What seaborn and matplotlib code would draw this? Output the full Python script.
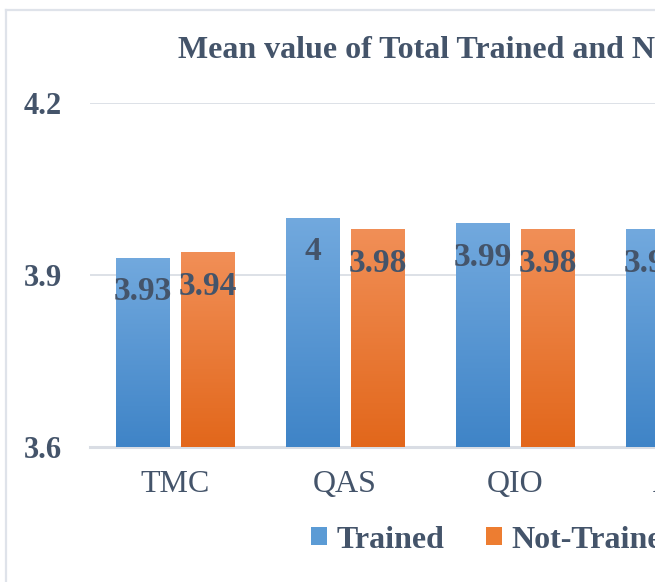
import matplotlib
matplotlib.use("Agg")
import matplotlib.pyplot as plt
import seaborn as sns
import pandas as pd
import numpy as np
from matplotlib.colors import LinearSegmentedColormap
from matplotlib.lines import Line2D
from matplotlib.patches import Patch

# ---- data (the chart is cropped on the right) ----
categories = ["TMC", "QAS", "QIO", "AVG"]
trained = [3.93, 4.00, 3.99, 3.98]
not_trained = [3.94, 3.98, 3.98]          # 4th value lies outside the crop
series = ["Trained", "Not-Trained"]
yticks = [3.6, 3.9, 4.2]
title = "Mean value of Total Trained and Not-Trained"

rows = []
for c, v in zip(categories, trained):
    rows.append({"cat": c, "series": series[0], "value": v})
for c, v in zip(categories, not_trained):
    rows.append({"cat": c, "series": series[1], "value": v})
df = pd.DataFrame(rows)

plt.rcParams["font.family"] = ["Liberation Serif", "DejaVu Serif"]
TXT = "#44546a"
DPI = 100
W, H = 655, 582

fig = plt.figure(figsize=(W / DPI, H / DPI), dpi=DPI)
fig.patch.set_facecolor("white")

def px2pt(p):
    return p * 72 / DPI

# axes: left at x=90px, y=3.6 at 447px, y=4.2 at 103px, 170px per category
ax = fig.add_axes([90 / W, (H - 447) / H, 4 * 170 / W, 344 / H])

palette = {"Trained": "#5b9bd5", "Not-Trained": "#ed7d31"}
sns.barplot(data=df, x="cat", y="value", hue="series", hue_order=series,
            order=categories, palette=palette, width=0.765, gap=0.18,
            dodge=True, legend=False, ax=ax, linewidth=0, zorder=2)

ymin, ymax = yticks[0], yticks[-1]
grads = [("#3f84c7", "#72a9de"), ("#e2671b", "#f18f57")]
for cont, (cbot, ctop) in zip(ax.containers, grads):
    cmap = LinearSegmentedColormap.from_list("g", [cbot, ctop])
    for p in cont:
        x0, w, h = p.get_x(), p.get_width(), p.get_height()
        im = ax.imshow(np.linspace(0, 1, 256).reshape(-1, 1),
                       extent=[x0, x0 + w, ymin, h], origin="lower",
                       cmap=cmap, aspect="auto", zorder=2.1)
        im.set_clip_path(p)
        ax.annotate(f"{h:g}", xy=(x0 + w / 2, h), xytext=(0, -px2pt(34)),
                    textcoords="offset points", ha="center", va="center",
                    fontsize=24, fontweight="bold", color=TXT, zorder=5)

ax.set_aspect("auto")
ax.set_xlim(-0.5, len(categories) - 0.5)
ax.set_ylim(ymin, ymax)
ax.set_yticks(yticks)
ax.set_yticklabels([f"{v}" for v in yticks], fontsize=22, fontweight="bold",
                   color=TXT)
ax.set_xticks(range(len(categories)))
ax.set_xticklabels(categories, fontsize=23, color=TXT)
ax.tick_params(axis="y", length=0, pad=px2pt(28))
ax.tick_params(axis="x", length=0, pad=px2pt(23))
ax.set_xlabel("")
ax.set_ylabel("")
for s in ax.spines.values():
    s.set_visible(False)
ax.grid(axis="y", color="#dde1e7", linewidth=1.4, zorder=0)
ax.grid(axis="x", visible=False)
ax.set_axisbelow(True)
ax.axhline(ymin, color="#d9dde4", linewidth=2.2, zorder=1, clip_on=False)
ax.set_facecolor("none")

# title (centred on the full chart, only its left part is visible)
fig.text(178 / W, 1 - 50 / H, title, ha="left", va="center", fontsize=23,
         fontweight="bold", color=TXT)

# legend
handles = [Patch(facecolor=palette[s], edgecolor="none") for s in series]
fig.legend(handles, series, loc="center left",
           bbox_to_anchor=(311 / W, 1 - 540 / H), ncol=2, frameon=False,
           prop={"family": "Liberation Serif", "weight": "bold", "size": 23},
           labelcolor=TXT, handlelength=0.5, handleheight=0.5,
           handletextpad=0.3, columnspacing=1.3, borderpad=0,
           borderaxespad=0)

# chart frame (left and top edges visible)
fig.add_artist(Line2D([6 / W, 6 / W], [-0.1, 1 - 10 / H], color="#dfe3ea",
                      linewidth=1.6, transform=fig.transFigure))
fig.add_artist(Line2D([6 / W, 1.1], [1 - 10 / H, 1 - 10 / H], color="#dfe3ea",
                      linewidth=1.6, transform=fig.transFigure))

fig.savefig("out.png", dpi=DPI, facecolor="white")
